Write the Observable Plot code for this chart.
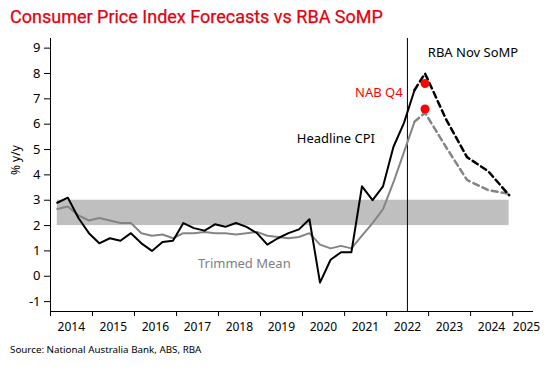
<!DOCTYPE html>
<html>
<head>
<meta charset="utf-8">
<script src="https://cdn.jsdelivr.net/npm/d3@7"></script>
<script src="https://cdn.jsdelivr.net/npm/@observablehq/plot@0.6"></script>
<style>
  html, body { margin: 0; padding: 0; background: #fff; }
  #wrap { width: 550px; height: 370px; position: relative; overflow: hidden; }
  #title { height: 30px; box-sizing: border-box; padding: 6px 0 0 10px; font-family: Roboto, sans-serif; font-weight: 400; font-size: 18px; line-height: 21px; color: #e4000f; white-space: nowrap; -webkit-text-stroke: 0.25px #e4000f; }
  #chart { height: 310px; }
  #caption { position: absolute; left: 10px; top: 343px; font-family: "Noto Sans", sans-serif; font-size: 9.8px; color: #000; white-space: nowrap; }
</style>
</head>
<body>
<div id="wrap">
  <div id="title">Consumer Price Index Forecasts vs RBA SoMP</div>
  <div id="chart"></div>
  <div id="caption">Source: National Australia Bank, ABS, RBA</div>
</div>
<script>
// Quarterly dates (first day of the quarter's last month), Mar 2014 – Sep 2022
const quarters = [
  "2014-03","2014-06","2014-09","2014-12",
  "2015-03","2015-06","2015-09","2015-12",
  "2016-03","2016-06","2016-09","2016-12",
  "2017-03","2017-06","2017-09","2017-12",
  "2018-03","2018-06","2018-09","2018-12",
  "2019-03","2019-06","2019-09","2019-12",
  "2020-03","2020-06","2020-09","2020-12",
  "2021-03","2021-06","2021-09","2021-12",
  "2022-03","2022-06","2022-09"
];
const headlineCPI = [
  2.9, 3.1, 2.3, 1.7,
  1.3, 1.5, 1.4, 1.7,
  1.3, 1.0, 1.35, 1.4,
  2.1, 1.9, 1.8, 2.05,
  1.95, 2.1, 1.95, 1.7,
  1.25, 1.5, 1.7, 1.85,
  2.25, -0.25, 0.65, 0.95,
  0.95, 3.55, 3.0, 3.55,
  5.1, 6.05, 7.35
];
const trimmedMean = [
  2.65, 2.75, 2.4, 2.2,
  2.3, 2.2, 2.1, 2.1,
  1.7, 1.6, 1.65, 1.5,
  1.7, 1.7, 1.75, 1.7,
  1.7, 1.65, 1.7, 1.75,
  1.6, 1.55, 1.5, 1.55,
  1.7, 1.25, 1.1, 1.2,
  1.1, 1.6, 2.1, 2.65,
  3.7, 4.9, 6.1
];
// RBA November SoMP forecasts (joined from the last actual)
const forecastDates = ["2022-09","2022-12","2023-06","2023-12","2024-06","2024-12"];
const forecastHeadline = [7.35, 8.0, 6.2, 4.7, 4.15, 3.2];
const forecastTrimmed = [6.1, 6.45, 5.1, 3.8, 3.4, 3.25];
// NAB Q4 forecasts
const nabDates = ["2022-12","2022-12"];
const nabValues = [7.6, 6.6];
// RBA target band
const bandLow = 2, bandHigh = 3;
const bandStart = "2014-03", bandEnd = "2024-12";
// SoMP divider
const sompDivider = "2022-07";
// Axis
const xDomain = ["2014-01-01", "2025-07-01"];
const yDomain = [-1.39, 9.38];
const yTicks = [-1,0,1,2,3,4,5,6,7,8,9];
const yearLabels = [2014,2015,2016,2017,2018,2019,2020,2021,2022,2023,2024,2025];
const yLabel = "% y/y";
// Annotations
const labels = [
  {text: "RBA Nov SoMP", date: "2024-01-22", value: 8.8, color: "#000"},
  {text: "NAB Q4", date: "2021-10-26", value: 7.22, color: "#ff0000"},
  {text: "Headline CPI", date: "2020-10-17", value: 5.44, color: "#000"},
  {text: "Trimmed Mean", date: "2018-08-13", value: 0.51, color: "#808080"}
];

const parse = s => new Date(s.length === 7 ? s + "-01" : s);
const actual = quarters.map((q, i) => ({date: parse(q), cpi: headlineCPI[i], tm: trimmedMean[i]}));
const fc = forecastDates.map((q, i) => ({date: parse(q), cpi: forecastHeadline[i], tm: forecastTrimmed[i]}));
const nab = nabDates.map((q, i) => ({date: parse(q), v: nabValues[i]}));
const band = [{x1: parse(bandStart), x2: parse(bandEnd), y1: bandLow, y2: bandHigh}];
const yearTicks = yearLabels.map(y => new Date(`${y}-01-01`));
const yearMid = yearLabels.slice(0, -1).map(y => new Date(`${y}-07-01`));
const lastYear = yearLabels[yearLabels.length - 1];
const font = "'Noto Sans', 'Open Sans', sans-serif";

const plot = Plot.plot({
  width: 550,
  height: 310,
  marginTop: 8,
  marginBottom: 29,
  marginLeft: 50,
  marginRight: 17,
  style: {fontFamily: font, background: "#fff", overflow: "visible"},
  x: {type: "utc", domain: xDomain.map(d => new Date(d))},
  y: {domain: yDomain},
  marks: [
    Plot.rect(band, {x1: "x1", x2: "x2", y1: "y1", y2: "y2", fill: "#bfbfbf"}),
    Plot.ruleX([parse(sompDivider)], {stroke: "#000", strokeWidth: 1}),
    Plot.line(actual, {x: "date", y: "tm", stroke: "#858585", strokeWidth: 2}),
    Plot.line(actual, {x: "date", y: "cpi", stroke: "#000", strokeWidth: 2}),
    Plot.line(fc, {x: "date", y: "tm", stroke: "#858585", strokeWidth: 2.5, strokeDasharray: "6,4"}),
    Plot.line(fc, {x: "date", y: "cpi", stroke: "#000", strokeWidth: 2.5, strokeDasharray: "6,4"}),
    Plot.dot(nab, {x: "date", y: "v", r: 4.5, fill: "#ff0000", stroke: "none"}),
    Plot.text(labels, {x: d => new Date(d.date), y: "value", text: "text", fill: "color", fontSize: 13}),
    // axes
    Plot.ruleY([yDomain[0]], {stroke: "#000", strokeWidth: 1}),
    Plot.ruleX([new Date(xDomain[0])], {stroke: "#000", strokeWidth: 1}),
    Plot.axisY({ticks: yTicks, tickSize: 6, tickPadding: 4, fontSize: 13, label: null, tickFormat: d => String(d)}),
    Plot.axisX({ticks: yearTicks, tickSize: 5, tickFormat: () => "", label: null}),
    Plot.axisX({ticks: yearMid, tickSize: 0, tickPadding: 11, fontSize: 12, label: null, tickFormat: d => String(d.getUTCFullYear())}),
    Plot.text([String(lastYear)], {x: () => new Date(`${lastYear}-07-01`), frameAnchor: "bottom", dy: 19, dx: -7, fontSize: 12}),
    Plot.text([yLabel], {frameAnchor: "left", rotate: -90, dx: -34, fontSize: 12})
  ]
});
document.getElementById("chart").appendChild(plot);
</script>
</body>
</html>
